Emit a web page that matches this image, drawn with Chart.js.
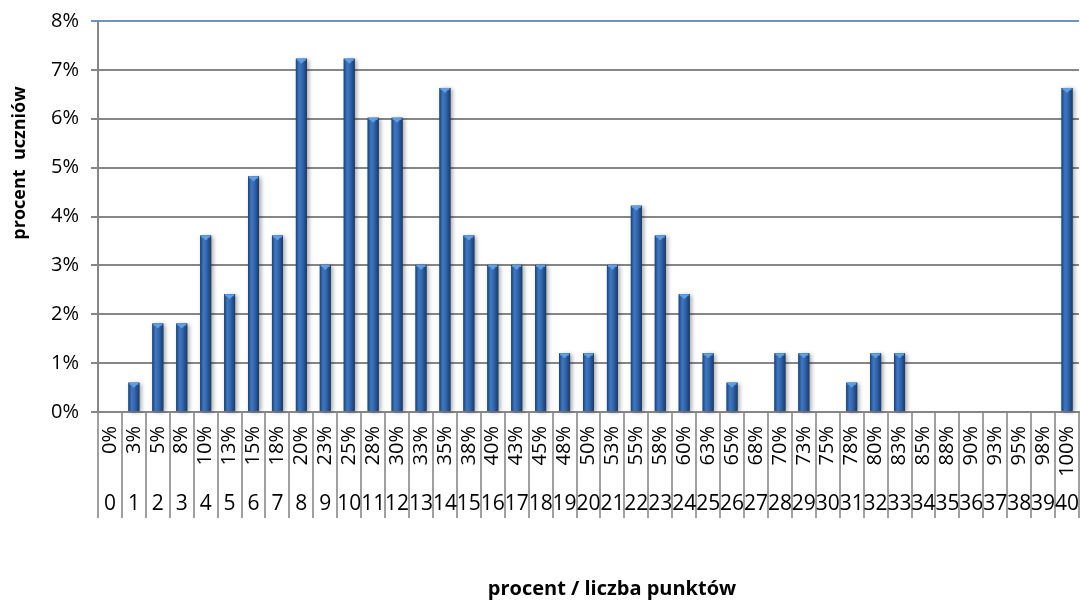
<!DOCTYPE html>
<html>
<head>
<meta charset="utf-8">
<script src="https://cdn.jsdelivr.net/npm/chart.js@4"></script>
<style>
html,body{margin:0;padding:0;background:#fff;}
canvas{display:block;}
</style>
</head>
<body>
<canvas id="c" width="1080" height="601"></canvas>
<script>
// categories: number of points and corresponding percent of maximum
const points = ['0','1','2','3','4','5','6','7','8','9','10','11','12','13','14','15','16','17','18','19','20','21','22','23','24','25','26','27','28','29','30','31','32','33','34','35','36','37','38','39','40'];
const percentLabels = ['0%','3%','5%','8%','10%','13%','15%','18%','20%','23%','25%','28%','30%','33%','35%','38%','40%','43%','45%','48%','50%','53%','55%','58%','60%','63%','65%','68%','70%','73%','75%','78%','80%','83%','85%','88%','90%','93%','95%','98%','100%'];
// percent of students
const studentsPct = [0, 0.60, 1.81, 1.81, 3.61, 2.41, 4.82, 3.61, 7.23, 3.01, 7.23, 6.02, 6.02, 3.01, 6.63, 3.61, 3.01, 3.01, 3.01, 1.20, 1.20, 3.01, 4.22, 3.61, 2.41, 1.20, 0.60, 0, 1.20, 1.20, 0, 0.60, 1.20, 1.20, 0, 0, 0, 0, 0, 0, 6.63];
const yTicks = [0,1,2,3,4,5,6,7,8];
const yTitle = 'procent  uczniów';
const xTitle = 'procent / liczba punktów';

const FONT = "'Open Sans', 'Noto Sans', sans-serif";
const GRID = '#868686';

const barStyle = {
  id: 'barStyle',
  afterDatasetsDraw(chart) {
    const ctx = chart.ctx;
    const meta = chart.getDatasetMeta(0);
    meta.data.forEach(el => {
      const {x, y, base, width} = el.getProps(['x','y','base','width'], true);
      const h = base - y;
      if (h <= 0.5) return;
      const l = x - width/2;
      ctx.save();
      ctx.shadowColor = 'rgba(0,0,0,0.35)';
      ctx.shadowBlur = 4;
      ctx.shadowOffsetX = 2;
      ctx.shadowOffsetY = 1;
      const g = ctx.createLinearGradient(l, 0, l + width, 0);
      g.addColorStop(0, '#1b4275');
      g.addColorStop(0.3, '#3d77c4');
      g.addColorStop(0.55, '#3469b0');
      g.addColorStop(1, '#183b6c');
      ctx.fillStyle = g;
      ctx.fillRect(l, y, width, h);
      ctx.restore();
      // top highlight
      ctx.save();
      ctx.fillStyle = '#5f9fe6';
      ctx.fillRect(l + 1, y, width - 2, 2);
      ctx.beginPath();
      ctx.moveTo(l + 2, y + 1.5);
      ctx.lineTo(l + width - 2, y + 1.5);
      ctx.lineTo(x, y + 5);
      ctx.closePath();
      ctx.fill();
      ctx.restore();
    });
  }
};

const labelsPlugin = {
  id: 'twoLevelLabels',
  afterDraw(chart) {
    const ctx = chart.ctx;
    const xs = chart.scales.x;
    const area = chart.chartArea;
    ctx.save();
    ctx.fillStyle = '#000';
    points.forEach((p, i) => {
      const px = xs.getPixelForValue(i);
      // rotated percent label
      ctx.save();
      ctx.translate(px, area.bottom + 14);
      ctx.rotate(-Math.PI/2);
      ctx.font = '20px ' + FONT;
      ctx.textAlign = 'right';
      ctx.textBaseline = 'middle';
      ctx.fillText(percentLabels[i], 0, 0);
      ctx.restore();
      // points label
      ctx.font = '21px ' + FONT;
      ctx.textAlign = 'center';
      ctx.textBaseline = 'middle';
      ctx.fillText(p, px, area.bottom + 92);
    });
    // axis titles
    ctx.textAlign = 'center';
    ctx.textBaseline = 'middle';
    ctx.font = 'bold 20px ' + FONT;
    ctx.fillText(xTitle, 612, 589);
    ctx.font = 'bold 18px ' + FONT;
    ctx.save();
    ctx.translate(20, 163);
    ctx.rotate(-Math.PI/2);
    ctx.fillText(yTitle, 0, 0);
    ctx.restore();
    ctx.restore();
  }
};

new Chart(document.getElementById('c'), {
  type: 'bar',
  data: {
    labels: points,
    datasets: [{
      data: studentsPct,
      backgroundColor: '#2b5f9f',
      borderWidth: 0,
      categoryPercentage: 1,
      barPercentage: 0.46
    }]
  },
  options: {
    responsive: false,
    animation: false,
    devicePixelRatio: 1,
    layout: { autoPadding: false, padding: { top: 20, right: 1, left: 0, bottom: 0 } },
    plugins: { legend: { display: false }, tooltip: { enabled: false } },
    scales: {
      x: {
        ticks: { display: false },
        grid: {
          offset: true,
          drawOnChartArea: false,
          drawTicks: true,
          tickLength: 106,
          color: '#a0a0a0',
          lineWidth: 2
        },
        border: { color: GRID, width: 2 },
        afterFit(s) { s.height = 189; }
      },
      y: {
        min: 0,
        max: 8,
        afterBuildTicks(s) { s.ticks = yTicks.map(v => ({value: v})); },
        ticks: {
          stepSize: 1,
          callback: v => v + '%',
          color: '#000',
          font: { size: 20, family: FONT, lineHeight: 0.9 },
          padding: 12
        },
        grid: {
          color: c => (c.tick && c.tick.value === 8) ? '#6f92c4' : GRID,
          lineWidth: 2,
          tickLength: 7
        },
        border: { color: GRID, width: 2 },
        afterFit(s) { s.width = 98; }
      }
    }
  },
  plugins: [barStyle, labelsPlugin]
});
</script>
</body>
</html>
